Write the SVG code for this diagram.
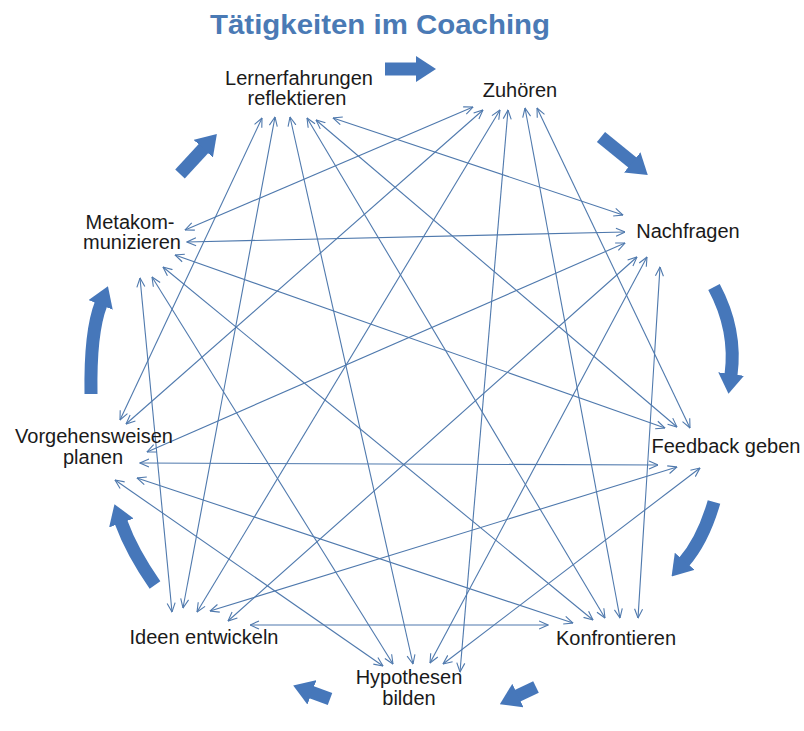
<svg xmlns="http://www.w3.org/2000/svg" width="804" height="731" viewBox="0 0 804 731">
<defs>
<style>
.lbl{font-family:"Liberation Sans",Arial,sans-serif;font-size:20px;fill:#1a1a1a;text-anchor:middle}
.title{font-family:"Liberation Sans",Arial,sans-serif;font-size:28px;font-weight:bold;fill:#4a7ab5;text-anchor:middle}
.edge{stroke:#4f79ad;stroke-width:1.1;fill:none;marker-start:url(#tip);marker-end:url(#tip)}
.cyc{stroke:#4677ba;stroke-width:13;fill:none;marker-end:url(#big)}
</style>
<marker id="tip" viewBox="0 0 10 10" markerUnits="userSpaceOnUse" markerWidth="10" markerHeight="10" refX="9.5" refY="5" orient="auto-start-reverse">
<path d="M0.5,1 L9.5,5 L0.5,9" fill="none" stroke="#4f79ad" stroke-width="1.1"/>
</marker>
<marker id="big" viewBox="0 0 20 26" markerUnits="userSpaceOnUse" markerWidth="20" markerHeight="26" refX="1" refY="13" orient="auto">
<path d="M0,0 L20,13 L0,26 z" fill="#4677ba"/>
</marker>
</defs>
<rect width="804" height="731" fill="#ffffff"/>
<text class="title" x="380" y="34" textLength="340" lengthAdjust="spacingAndGlyphs">Tätigkeiten im Coaching</text>

<g id="cycle-arrows">
<path class="cyc" d="M385,69 L417,69"/>
<path class="cyc" d="M601,137 L633,163"/>
<path class="cyc" d="M714,287 Q737,330 731,375"/>
<path class="cyc" d="M714,502 Q703,540 684,562"/>
<path class="cyc" d="M536,687 L517,696"/>
<path class="cyc" d="M330,699 L311,692"/>
<path class="cyc" d="M155,585 Q132,552 121,522"/>
<path class="cyc" d="M91,394 Q90,332 101,304"/>
<path class="cyc" d="M180,174 L204,148"/>
</g>

<g id="connectors">
<line class="edge" x1="333" y1="118" x2="623" y2="215"/>
<line class="edge" x1="316" y1="120" x2="677" y2="427"/>
<line class="edge" x1="307" y1="118" x2="605" y2="618"/>
<line class="edge" x1="290" y1="117" x2="413" y2="664"/>
<line class="edge" x1="275" y1="117" x2="183" y2="608"/>
<line class="edge" x1="262" y1="118" x2="120" y2="420"/>
<line class="edge" x1="537" y1="108" x2="690" y2="428"/>
<line class="edge" x1="525" y1="108" x2="620" y2="618"/>
<line class="edge" x1="508" y1="110" x2="460" y2="672"/>
<line class="edge" x1="500" y1="110" x2="197" y2="612"/>
<line class="edge" x1="483" y1="110" x2="126" y2="424"/>
<line class="edge" x1="473" y1="107" x2="185" y2="230"/>
<line class="edge" x1="660" y1="267" x2="638" y2="618"/>
<line class="edge" x1="647" y1="257" x2="430" y2="663"/>
<line class="edge" x1="637" y1="257" x2="228" y2="621"/>
<line class="edge" x1="625" y1="243" x2="147" y2="452"/>
<line class="edge" x1="625" y1="232" x2="187" y2="242"/>
<line class="edge" x1="700" y1="468" x2="443" y2="664"/>
<line class="edge" x1="677" y1="467" x2="210" y2="611"/>
<line class="edge" x1="658" y1="465" x2="140" y2="463"/>
<line class="edge" x1="665" y1="428" x2="175" y2="255"/>
<line class="edge" x1="548" y1="625" x2="250" y2="625"/>
<line class="edge" x1="573" y1="623" x2="137" y2="478"/>
<line class="edge" x1="593" y1="620" x2="163" y2="267"/>
<line class="edge" x1="383" y1="666" x2="115" y2="480"/>
<line class="edge" x1="393" y1="664" x2="152" y2="277"/>
<line class="edge" x1="172" y1="612" x2="140" y2="278"/>
</g>

<g id="node-lernerfahrungen"><text class="lbl" x="299" y="85">Lernerfahrungen</text><text class="lbl" x="297" y="105">reflektieren</text></g>
<g id="node-zuhoeren"><text class="lbl" x="520" y="97">Zuhören</text></g>
<g id="node-nachfragen"><text class="lbl" x="688" y="238">Nachfragen</text></g>
<g id="node-feedback"><text class="lbl" x="726" y="453">Feedback geben</text></g>
<g id="node-konfrontieren"><text class="lbl" x="616" y="645">Konfrontieren</text></g>
<g id="node-hypothesen"><text class="lbl" x="409" y="684">Hypothesen</text><text class="lbl" x="409" y="705">bilden</text></g>
<g id="node-ideen"><text class="lbl" x="204" y="644">Ideen entwickeln</text></g>
<g id="node-vorgehensweisen"><text class="lbl" x="94" y="443">Vorgehensweisen</text><text class="lbl" x="93" y="464">planen</text></g>
<g id="node-metakommunizieren"><text class="lbl" x="130" y="229">Metakom-</text><text class="lbl" x="132" y="249">munizieren</text></g>
</svg>
